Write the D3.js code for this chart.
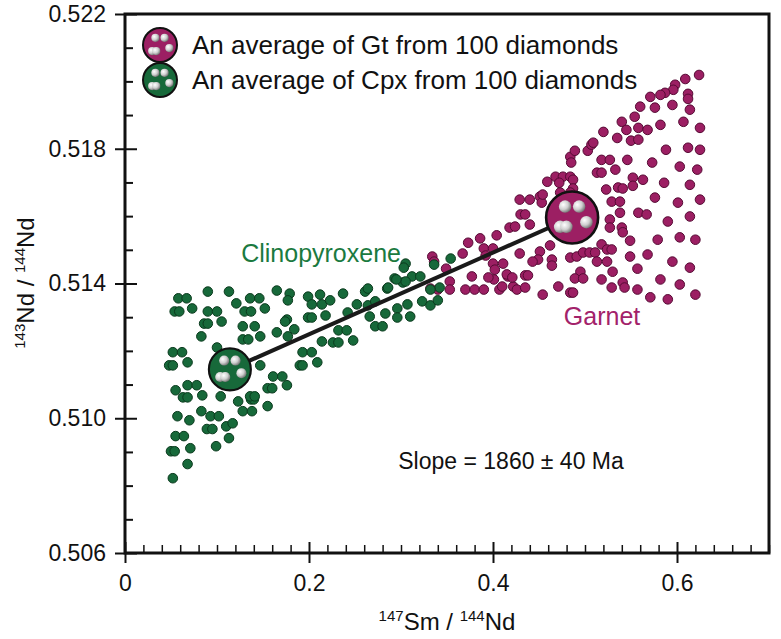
<!DOCTYPE html>
<html>
<head>
<meta charset="utf-8">
<script src="https://cdn.jsdelivr.net/npm/d3@7"></script>
<style>
  body { margin: 0; background: #fff; }
  svg text { font-family: "Liberation Sans", Arial, sans-serif; }
</style>
</head>
<body>
<div id="chart"></div>
<script>
// clinopyroxene inclusions [147Sm/144Nd, 143Nd/144Nd]
var cpxPoints = [
  [0.058,0.51356],[0.067,0.51356],[0.054,0.51317],[0.059,0.51317],[0.073,0.51326],
  [0.090,0.51376],[0.113,0.51376],[0.121,0.51341],[0.090,0.51317],[0.100,0.51317],
  [0.086,0.51281],[0.090,0.51281],[0.105,0.51287],[0.083,0.51243],[0.100,0.51210],
  [0.052,0.51196],[0.062,0.51196],[0.048,0.51157],[0.052,0.51157],[0.068,0.51166],
  [0.055,0.51083],[0.068,0.51098],[0.078,0.51098],[0.063,0.51062],[0.068,0.51062],
  [0.084,0.51068],[0.104,0.51065],[0.123,0.51050],[0.137,0.51056],[0.140,0.51056],
  [0.128,0.51021],[0.138,0.51021],[0.057,0.51006],[0.070,0.50994],[0.083,0.51021],
  [0.093,0.51006],[0.102,0.51006],[0.089,0.50968],[0.095,0.50968],[0.110,0.50976],
  [0.117,0.50985],[0.113,0.50941],[0.055,0.50947],[0.064,0.50947],[0.050,0.50902],
  [0.054,0.50902],[0.071,0.50911],[0.099,0.50917],[0.068,0.50864],[0.052,0.50822],
  [0.136,0.51356],[0.146,0.51356],[0.130,0.51317],[0.137,0.51317],[0.152,0.51326],
  [0.165,0.51379],[0.179,0.51370],[0.177,0.51350],[0.199,0.51361],[0.212,0.51367],
  [0.203,0.51338],[0.214,0.51338],[0.223,0.51350],[0.237,0.51370],[0.261,0.51376],
  [0.264,0.51385],[0.252,0.51338],[0.264,0.51335],[0.272,0.51347],[0.285,0.51385],
  [0.293,0.51415],[0.302,0.51403],[0.283,0.51311],[0.296,0.51326],[0.296,0.51299],
  [0.272,0.51273],[0.280,0.51273],[0.266,0.51302],[0.242,0.51314],[0.232,0.51261],
  [0.241,0.51261],[0.248,0.51231],[0.226,0.51225],[0.232,0.51225],[0.214,0.51228],
  [0.193,0.51196],[0.203,0.51196],[0.209,0.51166],[0.190,0.51157],[0.193,0.51157],
  [0.199,0.51299],[0.203,0.51299],[0.218,0.51305],[0.176,0.51293],[0.174,0.51287],
  [0.184,0.51264],[0.165,0.51255],[0.177,0.51243],[0.147,0.51157],[0.161,0.51124],
  [0.171,0.51124],[0.176,0.51098],[0.155,0.51089],[0.160,0.51089],[0.136,0.51065],
  [0.141,0.51065],[0.128,0.51273],[0.141,0.51273],[0.147,0.51243],[0.128,0.51234],
  [0.134,0.51234],[0.155,0.51036],[0.305,0.51459],[0.303,0.51447],[0.354,0.51474],
  [0.336,0.51456],[0.312,0.51421],[0.321,0.51421],[0.305,0.51406],[0.295,0.51412],
  [0.286,0.51388],[0.342,0.51388],[0.332,0.51382],[0.323,0.51347],[0.332,0.51335],
  [0.340,0.51350],[0.307,0.51338],[0.310,0.51302]
];

// garnet inclusions
var gtPoints = [
  [0.334,0.51480],[0.336,0.51465],[0.349,0.51444],[0.332,0.51385],[0.340,0.51382],
  [0.353,0.51406],[0.353,0.51382],[0.367,0.51489],[0.373,0.51521],[0.386,0.51534],
  [0.390,0.51504],[0.400,0.51504],[0.392,0.51483],[0.404,0.51543],[0.370,0.51382],
  [0.380,0.51382],[0.377,0.51421],[0.390,0.51382],[0.401,0.51412],[0.407,0.51382],
  [0.395,0.51418],[0.416,0.51421],[0.422,0.51391],[0.426,0.51382],[0.435,0.51388],
  [0.400,0.51459],[0.411,0.51459],[0.402,0.51441],[0.418,0.51566],[0.424,0.51569],
  [0.429,0.51649],[0.440,0.51649],[0.451,0.51658],[0.453,0.51640],[0.430,0.51605],
  [0.435,0.51605],[0.440,0.51575],[0.468,0.51717],[0.476,0.51717],[0.472,0.51699],
  [0.484,0.51717],[0.487,0.51708],[0.487,0.51682],[0.484,0.51776],[0.485,0.51759],
  [0.489,0.51794],[0.503,0.51794],[0.507,0.51812],[0.509,0.51818],[0.459,0.51702],
  [0.454,0.51664],[0.473,0.51670],[0.484,0.51670],[0.520,0.51850],[0.535,0.51832],
  [0.540,0.51880],[0.554,0.51895],[0.558,0.51862],[0.545,0.51856],[0.550,0.51824],
  [0.558,0.51827],[0.518,0.51767],[0.527,0.51767],[0.546,0.51767],[0.533,0.51738],
  [0.513,0.51729],[0.518,0.51729],[0.552,0.51714],[0.523,0.51679],[0.536,0.51685],
  [0.541,0.51682],[0.552,0.51690],[0.529,0.51643],[0.538,0.51643],[0.538,0.51610],
  [0.558,0.51610],[0.527,0.51590],[0.527,0.51566],[0.540,0.51566],[0.541,0.51552],
  [0.549,0.51527],[0.518,0.51516],[0.524,0.51501],[0.529,0.51501],[0.549,0.51480],
  [0.557,0.51444],[0.462,0.51513],[0.451,0.51495],[0.449,0.51471],[0.443,0.51465],
  [0.429,0.51489],[0.464,0.51471],[0.464,0.51453],[0.484,0.51477],[0.491,0.51480],
  [0.498,0.51492],[0.505,0.51492],[0.511,0.51492],[0.513,0.51465],[0.524,0.51465],
  [0.530,0.51435],[0.495,0.51435],[0.489,0.51415],[0.498,0.51415],[0.518,0.51412],
  [0.541,0.51403],[0.543,0.51388],[0.529,0.51388],[0.415,0.51427],[0.421,0.51418],
  [0.435,0.51424],[0.438,0.51424],[0.454,0.51367],[0.471,0.51391],[0.484,0.51373],
  [0.487,0.51373],[0.410,0.51391],[0.557,0.51382],[0.624,0.52019],[0.609,0.52007],
  [0.598,0.51990],[0.596,0.51975],[0.587,0.51966],[0.582,0.51960],[0.571,0.51954],
  [0.612,0.51963],[0.612,0.51948],[0.560,0.51925],[0.576,0.51922],[0.595,0.51930],
  [0.614,0.51916],[0.625,0.51862],[0.607,0.51880],[0.582,0.51871],[0.568,0.51856],
  [0.612,0.51803],[0.625,0.51797],[0.588,0.51797],[0.573,0.51759],[0.603,0.51747],
  [0.622,0.51738],[0.563,0.51708],[0.586,0.51699],[0.614,0.51693],[0.576,0.51655],
  [0.601,0.51640],[0.625,0.51649],[0.567,0.51605],[0.590,0.51584],[0.614,0.51599],
  [0.603,0.51537],[0.620,0.51530],[0.579,0.51530],[0.568,0.51486],[0.595,0.51465],
  [0.614,0.51447],[0.582,0.51412],[0.603,0.51397],[0.620,0.51367],[0.571,0.51359],
  [0.590,0.51353]
];

// averages of 100 diamonds
var cpxMean = [0.114, 0.51145];
var gtMean = [0.486, 0.51596];

var xMajor = [0, 0.2, 0.4, 0.6];
var yMajor = [0.506, 0.510, 0.514, 0.518, 0.522];

var legendLabels = ["An average of Gt from 100 diamonds", "An average of Cpx from 100 diamonds"];

var green = "#17693a", greenEdge = "#0a3a1d", greenText = "#1b7a40";
var purple = "#9c1f63", purpleEdge = "#560a34", purpleText = "#a3226a";

var W = 781, H = 639;
var plot = { left: 125, top: 14, right: 769, bottom: 553 };

var svg = d3.select("#chart").append("svg")
    .attr("width", W)
    .attr("height", H);

var defs = svg.append("defs");
var grad = defs.append("radialGradient")
    .attr("id", "ball")
    .attr("cx", "35%").attr("cy", "35%").attr("r", "70%");
grad.append("stop").attr("offset", "0%").attr("stop-color", "#ffffff");
grad.append("stop").attr("offset", "55%").attr("stop-color", "#cfcfcf");
grad.append("stop").attr("offset", "100%").attr("stop-color", "#6f6f6f");

var x = d3.scaleLinear().domain([0, 0.7]).range([plot.left, plot.right]);
var y = d3.scaleLinear().domain([0.506, 0.522]).range([plot.bottom, plot.top]);

// minor ticks (inward only)
var xMinor = d3.range(0, 0.7001, 0.02).filter(function(v){
    return xMajor.indexOf(+v.toFixed(2)) < 0;
});
var yMinor = d3.range(0.506, 0.5221, 0.001).filter(function(v){
    return yMajor.indexOf(+v.toFixed(3)) < 0;
});

svg.append("g")
    .attr("transform", "translate(0," + plot.bottom + ")")
    .call(d3.axisBottom(x).tickValues(xMinor).tickSize(-8).tickFormat(""))
    .call(function(g){ g.select(".domain").remove(); })
    .selectAll("line").attr("stroke", "#111").attr("stroke-width", 1.5);

svg.append("g")
    .attr("transform", "translate(" + plot.left + ",0)")
    .call(d3.axisLeft(y).tickValues(yMinor).tickSize(-8).tickFormat(""))
    .call(function(g){ g.select(".domain").remove(); })
    .selectAll("line").attr("stroke", "#111").attr("stroke-width", 2);

// major ticks: inward part
svg.append("g")
    .attr("transform", "translate(0," + plot.bottom + ")")
    .call(d3.axisBottom(x).tickValues(xMajor).tickSize(-11).tickFormat(""))
    .call(function(g){ g.select(".domain").remove(); })
    .selectAll("line").attr("stroke", "#111").attr("stroke-width", 2);

svg.append("g")
    .attr("transform", "translate(" + plot.left + ",0)")
    .call(d3.axisLeft(y).tickValues(yMajor).tickSize(-12).tickFormat(""))
    .call(function(g){ g.select(".domain").remove(); })
    .selectAll("line").attr("stroke", "#111").attr("stroke-width", 2);

// major ticks: outward part with labels
var xAxis = svg.append("g")
    .attr("transform", "translate(0," + plot.bottom + ")")
    .call(d3.axisBottom(x).tickValues(xMajor).tickSize(10).tickPadding(12)
        .tickFormat(function(d){ return d === 0 ? "0" : d3.format(".1f")(d); }));
xAxis.select(".domain").remove();
xAxis.selectAll("line").attr("stroke", "#111").attr("stroke-width", 2);
xAxis.selectAll("text").attr("font-size", 23).attr("fill", "#111")
    .attr("font-family", "Liberation Sans, Arial, sans-serif");

var yAxis = svg.append("g")
    .attr("transform", "translate(" + plot.left + ",0)")
    .call(d3.axisLeft(y).tickValues(yMajor).tickSize(10).tickPadding(9)
        .tickFormat(d3.format(".3f")));
yAxis.select(".domain").remove();
yAxis.selectAll("line").attr("stroke", "#111").attr("stroke-width", 2);
yAxis.selectAll("text").attr("font-size", 23).attr("fill", "#111")
    .attr("font-family", "Liberation Sans, Arial, sans-serif");

// frame
svg.append("rect")
    .attr("x", plot.left).attr("y", plot.top)
    .attr("width", plot.right - plot.left).attr("height", plot.bottom - plot.top)
    .attr("fill", "none").attr("stroke", "#111").attr("stroke-width", 3);

// scatter
function drawDots(data, cls, fill, edge) {
    svg.append("g").selectAll("." + cls)
        .data(data)
        .enter()
        .append("circle")
        .classed(cls, true)
        .attr("cx", function(d){ return x(d[0]); })
        .attr("cy", function(d){ return y(d[1]); })
        .attr("r", 4.8)
        .attr("fill", fill)
        .attr("stroke", edge)
        .attr("stroke-width", 1);
}
drawDots(gtPoints, "gt", purple, purpleEdge);
drawDots(cpxPoints, "cpx", green, greenEdge);

// tie line between the two averages
svg.append("line")
    .attr("x1", x(cpxMean[0])).attr("y1", y(cpxMean[1]))
    .attr("x2", x(gtMean[0])).attr("y2", y(gtMean[1]))
    .attr("stroke", "#1a1a1a").attr("stroke-width", 4);

// big circle with grey balls inside
var ballPos = [[-0.27,-0.42],[0.27,-0.42],[-0.46,0.36],[-0.22,0.36],[0.55,0.18]];
function drawBadge(cx, cy, r, fill) {
    var g = svg.append("g").attr("transform", "translate(" + cx + "," + cy + ")");
    g.append("circle").attr("r", r).attr("fill", fill)
        .attr("stroke", "#111").attr("stroke-width", Math.max(2, r / 10));
    g.selectAll(".ball").data(ballPos).enter()
        .append("circle")
        .classed("ball", true)
        .attr("cx", function(d){ return d[0] * r; })
        .attr("cy", function(d){ return d[1] * r; })
        .attr("r", r * 0.24)
        .attr("fill", "url(#ball)");
}
drawBadge(x(cpxMean[0]), y(cpxMean[1]), 21, green);
drawBadge(x(gtMean[0]), y(gtMean[1]), 26, purple);

// legend
var legend = svg.append("g");
var legendFill = [purple, green];
legendLabels.forEach(function(label, i){
    var cy = 45 + i * 35;
    drawBadge(160, cy, 17, legendFill[i]);
    legend.append("text")
        .attr("x", 192).attr("y", cy)
        .attr("dominant-baseline", "central")
        .attr("font-size", 26).attr("fill", "#111")
        .text(label);
});

// annotations
svg.append("text")
    .attr("x", x(0.300)).attr("y", y(0.51465))
    .attr("text-anchor", "end")
    .attr("font-size", 25).attr("fill", greenText)
    .text("Clinopyroxene");

svg.append("text")
    .attr("x", x(0.477)).attr("y", y(0.51276))
    .attr("font-size", 25).attr("fill", purpleText)
    .text("Garnet");

svg.append("text")
    .attr("x", x(0.4196)).attr("y", y(0.50848))
    .attr("text-anchor", "middle")
    .attr("font-size", 23).attr("fill", "#111")
    .text("Slope = 1860 \u00b1 40 Ma");

// axis titles
var xt = svg.append("text")
    .attr("x", 447).attr("y", 630)
    .attr("text-anchor", "middle")
    .attr("font-size", 24).attr("fill", "#111");
xt.append("tspan").attr("font-size", 15).attr("dy", -9).text("147");
xt.append("tspan").attr("dy", 9).text("Sm / ");
xt.append("tspan").attr("font-size", 15).attr("dy", -9).text("144");
xt.append("tspan").attr("dy", 9).text("Nd");

var yt = svg.append("text")
    .attr("transform", "translate(34,283) rotate(-90)")
    .attr("text-anchor", "middle")
    .attr("font-size", 24).attr("fill", "#111");
yt.append("tspan").attr("font-size", 15).attr("dy", -9).text("143");
yt.append("tspan").attr("dy", 9).text("Nd / ");
yt.append("tspan").attr("font-size", 15).attr("dy", -9).text("144");
yt.append("tspan").attr("dy", 9).text("Nd");
</script>
</body>
</html>
